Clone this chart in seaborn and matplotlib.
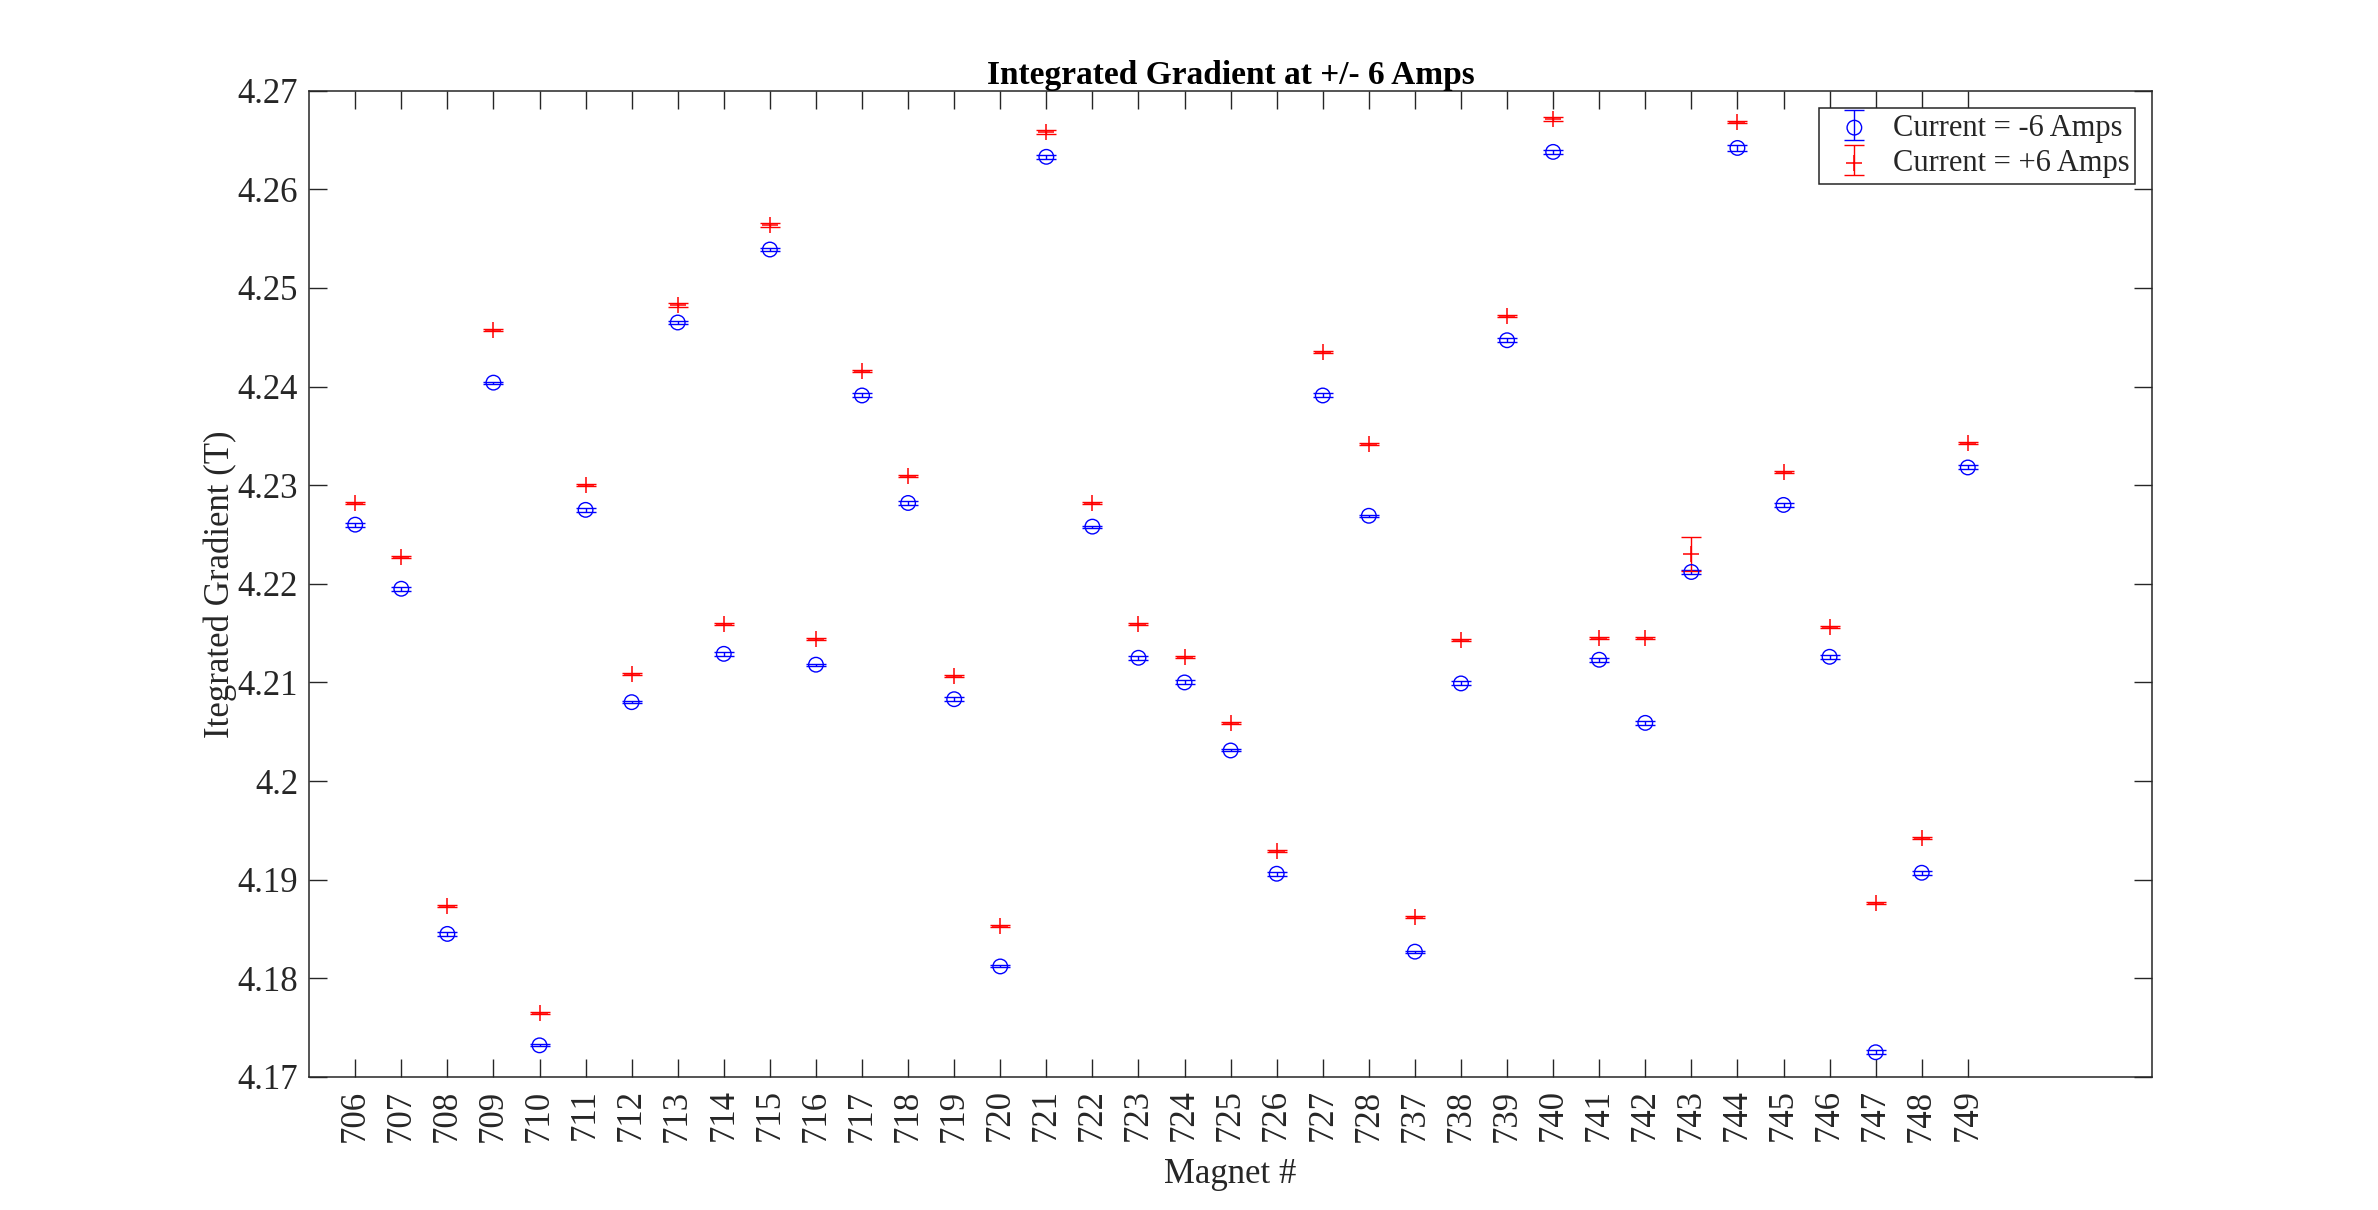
import numpy as np
import pandas as pd
import matplotlib
matplotlib.use("Agg")
import matplotlib.pyplot as plt
from matplotlib.ticker import FuncFormatter
from matplotlib.legend_handler import HandlerTuple
import seaborn as sns

# magnet serial numbers (no 729-736 in this batch)
magnets = ["706", "707", "708", "709", "710", "711", "712", "713", "714", "715",
           "716", "717", "718", "719", "720", "721", "722", "723", "724", "725",
           "726", "727", "728", "737", "738", "739", "740", "741", "742", "743",
           "744", "745", "746", "747", "748", "749"]

# integrated gradient (T) at -6 A
grad_neg = [4.2260, 4.2195, 4.1845, 4.2404, 4.1732, 4.2275, 4.2080, 4.2465, 4.2129, 4.2539,
            4.2118, 4.2391, 4.2282, 4.2083, 4.1812, 4.2633, 4.2258, 4.2125, 4.2100, 4.2031,
            4.1906, 4.2391, 4.2269, 4.1827, 4.2099, 4.2447, 4.2638, 4.2123, 4.2059, 4.2212,
            4.2642, 4.2280, 4.2126, 4.1725, 4.1907, 4.2318]
err_neg = [0.0002, 0.0002, 0.0002, 0.0001, 0.0001, 0.0002, 0.0001, 0.0002, 0.0002, 0.0002,
           0.0001, 0.0002, 0.0002, 0.0002, 0.0001, 0.0002, 0.0001, 0.0002, 0.0002, 0.0001,
           0.0002, 0.0002, 0.0001, 0.0001, 0.0002, 0.0002, 0.0002, 0.0002, 0.0002, 0.0002,
           0.0003, 0.0002, 0.0002, 0.0002, 0.0002, 0.0002]

# integrated gradient (T) at +6 A
grad_pos = [4.2282, 4.2227, 4.1873, 4.2457, 4.1765, 4.2300, 4.2109, 4.2483, 4.2159, 4.2564,
            4.2144, 4.2416, 4.2309, 4.2107, 4.1853, 4.2658, 4.2282, 4.2159, 4.2126, 4.2059,
            4.1929, 4.2435, 4.2342, 4.1862, 4.2143, 4.2472, 4.2671, 4.2145, 4.2145, 4.2230,
            4.2668, 4.2313, 4.2156, 4.1876, 4.1942, 4.2343]
err_pos = [0.0001, 0.0001, 0.0001, 0.0001, 0.0001, 0.0001, 0.0001, 0.0002, 0.0001, 0.0002,
           0.0001, 0.0001, 0.0001, 0.0001, 0.0001, 0.0002, 0.0001, 0.0001, 0.0001, 0.0001,
           0.0001, 0.0001, 0.0001, 0.0001, 0.0001, 0.0001, 0.0002, 0.0001, 0.0001, 0.0017,
           0.0001, 0.0001, 0.0001, 0.0001, 0.0001, 0.0001]

pos = np.arange(1, len(magnets) + 1)
df = pd.DataFrame({"pos": pos, "neg": grad_neg, "pos6": grad_pos})

sns.set_theme(style="ticks")
plt.rcParams["font.family"] = ["Liberation Serif", "DejaVu Serif"]
plt.rcParams["text.color"] = "#262626"
plt.rcParams["axes.labelcolor"] = "#262626"
plt.rcParams["xtick.color"] = "#262626"
plt.rcParams["ytick.color"] = "#262626"
plt.rcParams["xtick.direction"] = "in"
plt.rcParams["ytick.direction"] = "in"

fig = plt.figure(figsize=(23.78, 12.10), dpi=100)
ax = fig.add_axes([0.130, 0.110, 0.775, 0.815])

# markers via seaborn
sns.scatterplot(data=df, x="pos", y="neg", marker="o", s=110, facecolors="none",
                edgecolor="blue", linewidth=1.0, ax=ax, zorder=3)
sc_neg = ax.collections[-1]
sns.scatterplot(data=df, x="pos", y="pos6", marker="+", s=120, color="red",
                linewidth=1.1, ax=ax, zorder=3)
sc_pos = ax.collections[-1]

# error bars
eb_neg = ax.errorbar(pos, grad_neg, yerr=err_neg, fmt="none", ecolor="blue",
                     elinewidth=1.0, capsize=7, capthick=1.0, zorder=2)
eb_pos = ax.errorbar(pos, grad_pos, yerr=err_pos, fmt="none", ecolor="red",
                     elinewidth=1.0, capsize=7, capthick=1.0, zorder=2)

ax.set_xlim(0, 40)
ax.set_ylim(4.17, 4.27)
ax.set_xticks(pos)
ax.set_xticklabels(magnets, rotation=90)
ax.set_yticks(np.round(np.arange(4.17, 4.2701, 0.01), 2))
ax.yaxis.set_major_formatter(FuncFormatter(lambda v, p: f"{v:g}"))

ax.tick_params(axis="both", which="both", direction="in", length=13, width=1.0,
               labelsize=25, top=True, right=True)
ax.tick_params(axis="x", pad=9)
ax.tick_params(axis="y", pad=8)
for s in ax.spines.values():
    s.set_linewidth(1.1)
    s.set_color("#262626")

ax.set_xlabel("Magnet #", fontsize=25, labelpad=12)
ax.set_ylabel("Itegrated Gradient (T)", fontsize=25, labelpad=0)
ax.set_title("Integrated Gradient at +/- 6 Amps", fontsize=24, fontweight="bold",
             pad=1, color="black")

leg = ax.legend([(eb_neg, sc_neg), (eb_pos, sc_pos)],
                ["Current = -6 Amps", "Current = +6 Amps"],
                handler_map={tuple: HandlerTuple(ndivide=1)},
                loc="upper right", fontsize=22, frameon=True, fancybox=False,
                framealpha=1, edgecolor="#262626", handlelength=1.9,
                handletextpad=0.3, labelspacing=0.2, borderpad=0.2,
                borderaxespad=0.55)
leg.get_frame().set_linewidth(1.1)

fig.savefig("out.png", dpi=100, facecolor="white")
